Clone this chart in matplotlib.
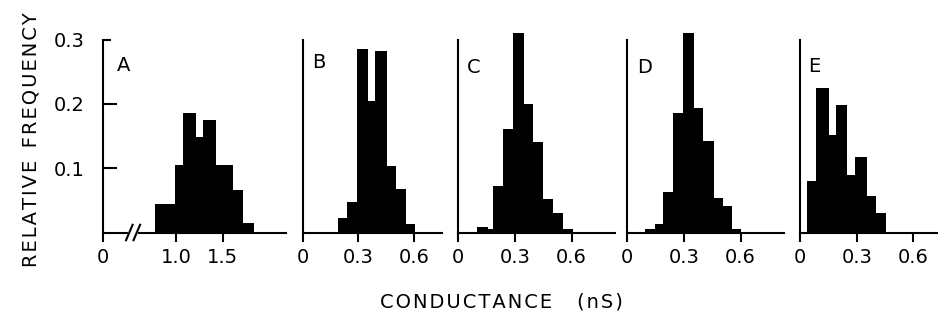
import matplotlib
matplotlib.use('Agg')
import matplotlib.pyplot as plt
import numpy as np

plt.rcParams['font.family'] = ['DejaVu Sans']

################################################
# Data
################################################
panel_labels = ['A', 'B', 'C', 'D', 'E']

# bin edges (nS) and relative frequencies for each panel
edges_a = [0.775, 0.99, 1.08, 1.21, 1.29, 1.43, 1.61, 1.72, 1.83]
freq_a = [0.045, 0.105, 0.186, 0.148, 0.175, 0.105, 0.066, 0.015]

edges_b = [0.193, 0.241, 0.292, 0.355, 0.391, 0.457, 0.504, 0.558, 0.607]
freq_b = [0.022, 0.048, 0.286, 0.205, 0.282, 0.104, 0.068, 0.013]

edges_c = [0.097, 0.159, 0.185, 0.238, 0.291, 0.348, 0.397, 0.45, 0.503, 0.556, 0.605]
freq_c = [0.009, 0.006, 0.073, 0.161, 0.31, 0.2, 0.14, 0.052, 0.031, 0.005]

edges_d = [0.094, 0.147, 0.187, 0.243, 0.293, 0.353, 0.403, 0.459, 0.505, 0.552, 0.6]
freq_d = [0.006, 0.013, 0.0625, 0.186, 0.311, 0.193, 0.142, 0.053, 0.041, 0.006]

edges_e = [0.039, 0.085, 0.156, 0.191, 0.251, 0.292, 0.357, 0.403, 0.456]
freq_e = [0.08, 0.225, 0.152, 0.198, 0.089, 0.118, 0.056, 0.031]

# x ticks per panel; panel A has a broken axis, its "0" sits at the axis start
xticks_a = [0.218, 1.0, 1.5]
xticklabels_a = ['0', '1.0', '1.5']
xticks_rest = [0, 0.3, 0.6]
xticklabels_rest = ['0', '0.3', '0.6']
yticks = [0.1, 0.2]
yticklabels = ['0.1', '0.2']

ylabel = 'RELATIVE FREQUENCY'
xlabel = 'CONDUCTANCE (nS)'

################################################
# Layout (pixels of the 938x320 figure)
################################################
W, H = 938.0, 320.0
baseline_px = 232.5
px_per_unit_y = 643.0          # 0.1 -> 64.3 px
ymax = 0.32
# (left px, right px, xmin, xmax)
frames = [(103, 286, 0.218, 2.178),
          (302.7, 442, 0.0, 0.753),
          (458.3, 615, 0.0, 0.83),
          (627.3, 784, 0.0, 0.83),
          (800, 938, 0.0, 0.73)]
label_offsets = [(10, 11.5), (7, 10), (6.5, 13), (7, 13), (6, 12.5)]
FS = 14


def spaced(s, gap='\u200a', word_gap='  '):
    #widen lettering a bit like the hand lettered original
    return word_gap.join(gap.join(w) for w in s.split(' '))


fig = plt.figure(figsize=(W / 100, H / 100), dpi=100)

data = [(edges_a, freq_a), (edges_b, freq_b), (edges_c, freq_c),
        (edges_d, freq_d), (edges_e, freq_e)]

for i, ((edges, freq), (l, r, x0, x1)) in enumerate(zip(data, frames)):
    ax = fig.add_axes([l / W, (H - baseline_px) / H, (r - l) / W,
                       ymax * px_per_unit_y / H])
    ax.stairs(freq, edges, fill=True, color='black', clip_on=False)
    ax.set_xlim(x0, x1)
    ax.set_ylim(0, ymax)
    for s in ['top', 'right']:
        ax.spines[s].set_visible(False)
    ax.spines['left'].set_bounds(0, 0.3)
    ax.spines['left'].set_linewidth(1.5)
    ax.spines['bottom'].set_linewidth(1.5)
    ax.spines['bottom'].set_zorder(3)

    if i == 0:
        ax.set_xticks(xticks_a)
        ax.set_xticklabels(xticklabels_a)
        ax.set_yticks(yticks)
        ax.set_yticklabels(yticklabels)
        ax.set_yticks([0.3], labels=['0.3'], minor=True)
        ax.tick_params(axis='y', which='major', direction='in', length=10,
                       width=1.5, pad=13, labelsize=FS)
        ax.tick_params(axis='y', which='minor', direction='in', length=6,
                       width=1.5, pad=13, labelsize=FS)
        # break marks on the x axis
        brk = 0.54
        ax.plot([brk - 0.035, brk + 0.035], [0, 0], color='white', lw=3,
                clip_on=False, zorder=3.5)
        for dx in (-0.04, 0.04):
            ax.plot([brk + dx - 0.035, brk + dx + 0.035], [-0.012, 0.012],
                    color='black', lw=1.5, clip_on=False, zorder=4)
    else:
        ax.set_xticks(xticks_rest)
        ax.set_xticklabels(xticklabels_rest)
        ax.set_yticks([])
    ax.tick_params(axis='x', direction='out', length=6.5, width=1.5,
                   pad=5, labelsize=FS)

    dx, dy = label_offsets[i]
    ax.annotate(panel_labels[i], xy=(0, 0.3), xycoords=('axes fraction', 'data'),
                xytext=(dx, -dy), textcoords='offset points',
                ha='left', va='top', fontsize=FS)

fig.text(31 / W, (H - 140) / H, spaced(ylabel), rotation=90,
         ha='center', va='center', fontsize=FS)
fig.text(501 / W, (H - 302) / H, spaced(xlabel, word_gap='    '),
         ha='center', va='center', fontsize=FS)

fig.savefig('out.png', dpi=100)
